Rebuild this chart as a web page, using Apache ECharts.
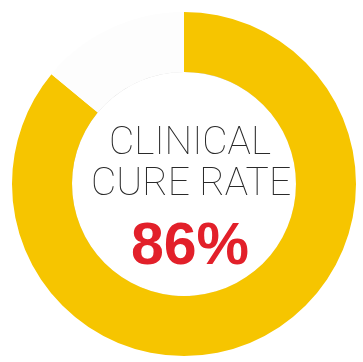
<!DOCTYPE html>
<html><head><meta charset="utf-8">
<script src="https://cdn.jsdelivr.net/npm/echarts@6/dist/echarts.min.js"></script>
<style>html,body{margin:0;padding:0;background:#fff}#c{width:363px;height:362px}</style>
</head><body><div id="c"></div>
<script>
const categories = ['Clinical cure', 'Other'];
const values = [86, 14];
const titleLines = ['CLINICAL', 'CURE RATE'];
const valueLabel = '86%';

const chart = echarts.init(document.getElementById('c'));
chart.setOption({
  backgroundColor: '#ffffff',
  animation: false,
  title: [
    {text: titleLines[0], left: 185, top: 120, textAlign: 'center',
     textStyle: {fontFamily: 'Roboto', fontWeight: 100, fontSize: 39, color: '#2a2a2a'}},
    {text: titleLines[1], left: 186, top: 161, textAlign: 'center',
     textStyle: {fontFamily: 'Roboto', fontWeight: 100, fontSize: 39, color: '#2a2a2a'}},
    {text: valueLabel, left: 185, top: 213, textAlign: 'center',
     textStyle: {fontFamily: 'Liberation Sans', fontWeight: 'bold', fontSize: 59, color: '#e2202a'}}
  ],
  series: [
    {
      type: 'pie', silent: true, z: 1,
      center: [184, 184], radius: [0, 112],
      label: {show: false}, labelLine: {show: false},
      itemStyle: {color: '#ffffff', shadowBlur: 8, shadowColor: 'rgba(0,0,0,0.25)', shadowOffsetX: -2, shadowOffsetY: -2},
      data: [{value: 1, name: 'inner'}]
    },
    {
      type: 'pie', silent: true, z: 2,
      center: [184, 184], radius: [112, 172],
      startAngle: 90, clockwise: true,
      label: {show: false}, labelLine: {show: false},
      data: categories.map((n, i) => ({
        name: n, value: values[i],
        itemStyle: {color: i === 0 ? '#f6c500' : '#fdfdfd'}
      }))
    }
  ]
});
</script></body></html>
